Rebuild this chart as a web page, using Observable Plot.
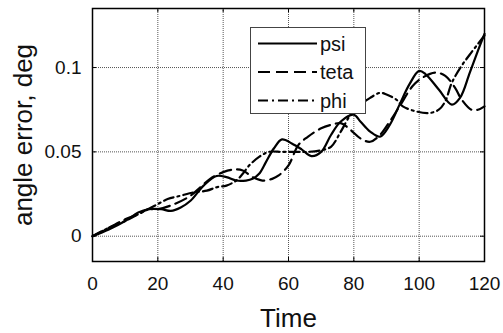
<!DOCTYPE html>
<html><head><meta charset="utf-8">
<script src="https://cdn.jsdelivr.net/npm/d3@7"></script>
<script src="https://cdn.jsdelivr.net/npm/@observablehq/plot@0.6"></script>
<style>
body{margin:0;background:#fff;}
#wrap{position:relative;width:503px;height:333px;font-family:"Liberation Sans",Arial,sans-serif;}
#legend{position:absolute;left:250px;top:27px;}
</style></head>
<body><div id="wrap"></div>
<script>
const xTicks = [0, 20, 40, 60, 80, 100, 120];
const yTicks = [0, 0.05, 0.1];
const yTickLabels = ["0", "0.05", "0.1"];
const seriesNames = ["psi", "teta", "phi"];

const psiT = [0,5,10,14,17,21,24,27,30,34,38,41,44,47,49,51,53,55.5,58,61,64,67,70,73,76,80,82,85,88,91,94,97,100,102,106,110,112.5,115.5,118,120];
const psiV = [0,0.004,0.009,0.014,0.016,0.016,0.015,0.017,0.021,0.030,0.0357,0.035,0.033,0.033,0.034,0.037,0.0436,0.052,0.0574,0.055,0.0515,0.0475,0.050,0.060,0.068,0.072,0.068,0.062,0.059,0.066,0.078,0.090,0.098,0.096,0.087,0.078,0.082,0.097,0.110,0.120];

const tetaT = [0,5,10,14,17,20,25,30,33,36,40,43,46,49,52,55,57,60,63,66,70,73,76,79,82,85,88,91,94,98,101,105,108,111,113,116,118,120];
const tetaV = [0,0.005,0.010,0.013,0.016,0.016,0.019,0.024,0.029,0.034,0.038,0.0395,0.039,0.035,0.033,0.034,0.036,0.042,0.054,0.059,0.064,0.066,0.067,0.063,0.058,0.056,0.060,0.068,0.077,0.089,0.094,0.097,0.095,0.088,0.081,0.075,0.075,0.077];

const phiT = [0,5,10,15,19,23,27,31,35,38,41,44,46,48,51,54,58,62,66,70,73,76,79,82,85,88,90,93,95,99,103,106,108,110,113,116,118,120];
const phiV = [0,0.005,0.009,0.014,0.018,0.022,0.024,0.026,0.027,0.029,0.030,0.033,0.037,0.042,0.047,0.050,0.050,0.050,0.050,0.051,0.053,0.062,0.072,0.078,0.082,0.085,0.084,0.081,0.077,0.074,0.073,0.075,0.080,0.091,0.101,0.109,0.114,0.119];

const psi = psiT.map((t,i)=>({t, v: psiV[i]}));
const teta = tetaT.map((t,i)=>({t, v: tetaV[i]}));
const phi = phiT.map((t,i)=>({t, v: phiV[i]}));

const W = 503, H = 333, mT = 8, mB = 72, mL = 92, mR = 19;
const ph = H - mT - mB, pw = W - mL - mR;
const dashes = {psi: null, teta: "12,6", phi: "10,4,2,4"};
const lineStyle = (name) => ({x: "t", y: "v", stroke: "black", strokeWidth: 2.2, curve: "catmull-rom", strokeDasharray: dashes[name]});

const chart = Plot.plot({
  width: W, height: H,
  marginLeft: mL, marginRight: mR, marginTop: mT, marginBottom: mB,
  style: {fontFamily: '"Liberation Sans", Arial, sans-serif', color: "#111", background: "white"},
  x: {domain: [0, 120]},
  y: {domain: [-0.015, 0.135]},
  marks: [
    Plot.ruleX(xTicks, {x: d => d, stroke: "#555", strokeDasharray: "1,1", strokeWidth: 1}),
    Plot.ruleY(yTicks, {y: d => d, stroke: "#555", strokeDasharray: "1,1", strokeWidth: 1}),
    Plot.tickX(xTicks, {x: d => d, insetTop: ph - 4, stroke: "black"}),
    Plot.tickX(xTicks, {x: d => d, insetBottom: ph - 4, stroke: "black"}),
    Plot.tickY(yTicks, {y: d => d, insetRight: pw - 4, stroke: "black"}),
    Plot.tickY(yTicks, {y: d => d, insetLeft: pw - 4, stroke: "black"}),
    Plot.line(psi, lineStyle("psi")),
    Plot.line(teta, lineStyle("teta")),
    Plot.line(phi, lineStyle("phi")),
    Plot.frame({stroke: "black", strokeWidth: 1.5}),
    Plot.axisX({ticks: xTicks, tickSize: 0, tickPadding: 15, fontSize: 19, label: null, tickFormat: d => String(d)}),
    Plot.axisY({ticks: yTicks, tickSize: 0, tickPadding: 11, fontSize: 19, label: null, tickFormat: (d) => yTickLabels[yTicks.indexOf(d)]}),
    Plot.text(["Time"], {frameAnchor: "bottom", lineAnchor: "middle", dy: 57, fontSize: 26, fill: "#111"}),
    Plot.text(["angle error, deg"], {frameAnchor: "left", textAnchor: "middle", lineAnchor: "middle", rotate: -90, dx: -69, fontSize: 26, fill: "#111"})
  ]
});
const wrap = document.getElementById("wrap");
wrap.appendChild(chart);

// legend
const lw = 115, lh = 86;
const leg = d3.create("svg").attr("id", "legend").attr("width", lw + 2).attr("height", lh + 2);
leg.append("rect").attr("x", 0.5).attr("y", 0.5).attr("width", lw).attr("height", lh)
  .attr("fill", "white").attr("stroke", "#444").attr("stroke-width", 1);
seriesNames.forEach((name, i) => {
  const y = 16.5 + i * 28.5;
  leg.append("line").attr("x1", 8).attr("x2", 67).attr("y1", y).attr("y2", y)
    .attr("stroke", "black").attr("stroke-width", 2.2)
    .attr("stroke-dasharray", dashes[name]);
  leg.append("text").attr("x", 70).attr("y", y).attr("dy", "0.35em")
    .attr("font-size", 20).attr("fill", "#111")
    .attr("font-family", '"Liberation Sans", Arial, sans-serif').text(name);
});
wrap.appendChild(leg.node());
</script></body></html>
